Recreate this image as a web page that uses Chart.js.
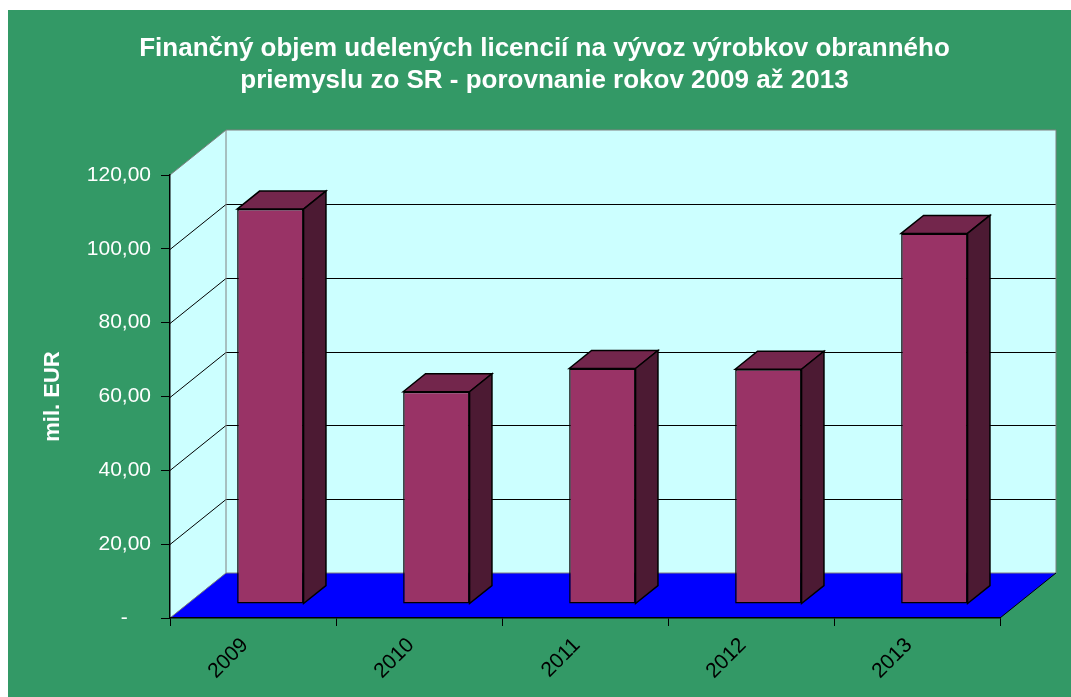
<!DOCTYPE html>
<html>
<head>
<meta charset="utf-8">
<script src="https://cdn.jsdelivr.net/npm/chart.js@4.4.1/dist/chart.umd.min.js"></script>
<style>
    body { margin: 0; background: #fff; }
</style>
</head>
<body>
<canvas id="licenceChart" width="1071" height="697"></canvas>
<script>
    // data (mil. EUR)
    const years = ['2009', '2010', '2011', '2012', '2013'];
    const volumes = [107.0, 57.5, 63.8, 63.6, 100.4];
    const yTickValues = [0, 20, 40, 60, 80, 100, 120];
    const yTickLabels = ['-\u00a0\u00a0\u00a0\u00a0', '20,00', '40,00', '60,00', '80,00', '100,00', '120,00'];
    const titleLines = [
        'Finančný objem udelených licencií na vývoz výrobkov obranného',
        'priemyslu zo SR - porovnanie rokov 2009 až 2013'
    ];

    // 3D look
    const DEPTH_X = 56, DEPTH_Y = -45;   // offset of back wall
    const BAR_FRONT = 0.31;              // bars sit a bit into the depth
    const BAR_DEPTH = 0.40;
    const FONT = '"Liberation Sans", Arial, sans-serif';

    const box3d = {
        id: 'box3d',
        beforeDraw(chart) {
            const ctx = chart.ctx;
            const xs = chart.scales.x, ys = chart.scales.y;
            const l = xs.left, r = xs.right;
            const y0 = ys.getPixelForValue(ys.min), yTop = ys.getPixelForValue(ys.max);

            ctx.save();
            ctx.fillStyle = '#ffffff';
            ctx.fillRect(0, 0, chart.width, chart.height);
            ctx.fillStyle = '#339966';
            ctx.fillRect(8, 10, chart.width - 8, chart.height - 10);

            // side wall
            ctx.fillStyle = '#ccffff';
            ctx.beginPath();
            ctx.moveTo(l, y0); ctx.lineTo(l, yTop);
            ctx.lineTo(l + DEPTH_X, yTop + DEPTH_Y); ctx.lineTo(l + DEPTH_X, y0 + DEPTH_Y);
            ctx.closePath(); ctx.fill();
            // back wall
            ctx.fillRect(l + DEPTH_X, yTop + DEPTH_Y, r - l, y0 - yTop);
            // floor
            ctx.fillStyle = '#0000ff';
            ctx.beginPath();
            ctx.moveTo(l, y0); ctx.lineTo(l + DEPTH_X, y0 + DEPTH_Y);
            ctx.lineTo(r + DEPTH_X, y0 + DEPTH_Y); ctx.lineTo(r, y0);
            ctx.closePath(); ctx.fill();

            // gridlines
            ctx.strokeStyle = '#000';
            ctx.lineWidth = 1;
            yTickValues.forEach(v => {
                if (v === ys.min || v === ys.max) return;
                const py = Math.round(ys.getPixelForValue(v)) + 0.5;
                ctx.beginPath();
                ctx.moveTo(l, py);
                ctx.lineTo(l + DEPTH_X, py + DEPTH_Y);
                ctx.lineTo(r + DEPTH_X, py + DEPTH_Y);
                ctx.stroke();
            });

            // wall edges
            ctx.strokeStyle = '#808080';
            ctx.beginPath();
            ctx.moveTo(l, yTop); ctx.lineTo(l + DEPTH_X, yTop + DEPTH_Y);
            ctx.lineTo(r + DEPTH_X, yTop + DEPTH_Y); ctx.lineTo(r + DEPTH_X, y0 + DEPTH_Y);
            ctx.lineTo(l + DEPTH_X, y0 + DEPTH_Y); ctx.lineTo(l + DEPTH_X, yTop + DEPTH_Y);
            ctx.moveTo(l, y0); ctx.lineTo(l + DEPTH_X, y0 + DEPTH_Y);
            ctx.stroke();
            ctx.strokeStyle = '#000';
            ctx.beginPath();
            ctx.moveTo(r, y0); ctx.lineTo(r + DEPTH_X, y0 + DEPTH_Y);
            ctx.stroke();
            ctx.restore();
        },
        beforeDatasetsDraw(chart) {
            chart.ctx.save();
            chart.ctx.translate(DEPTH_X * BAR_FRONT, DEPTH_Y * BAR_FRONT);
        },
        afterDatasetsDraw(chart) {
            const ctx = chart.ctx;
            const bx = DEPTH_X * BAR_DEPTH, by = DEPTH_Y * BAR_DEPTH;
            ctx.lineWidth = 1.5;
            ctx.strokeStyle = '#000';
            ctx.lineJoin = 'miter';
            chart.getDatasetMeta(0).data.forEach(bar => {
                const { x, y, base, width } = bar.getProps(['x', 'y', 'base', 'width'], true);
                const x1 = x - width / 2, x2 = x + width / 2;
                // top
                ctx.fillStyle = '#73264c';
                ctx.beginPath();
                ctx.moveTo(x1, y); ctx.lineTo(x1 + bx, y + by);
                ctx.lineTo(x2 + bx, y + by); ctx.lineTo(x2, y);
                ctx.closePath(); ctx.fill(); ctx.stroke();
                // side
                ctx.fillStyle = '#4c1a33';
                ctx.beginPath();
                ctx.moveTo(x2, y); ctx.lineTo(x2 + bx, y + by);
                ctx.lineTo(x2 + bx, base + by); ctx.lineTo(x2, base);
                ctx.closePath(); ctx.fill(); ctx.stroke();
            });
            ctx.restore();
        }
    };

    const ctx = document.getElementById('licenceChart').getContext('2d');
    const licenceChart = new Chart(ctx, {
        type: 'bar',
        data: {
            labels: years,
            datasets: [{
                data: volumes,
                backgroundColor: '#993366',
                borderColor: '#000',
                borderWidth: 1.5,
                borderSkipped: false,
                categoryPercentage: 1,
                barPercentage: 0.4,
                clip: false
            }]
        },
        plugins: [box3d],
        options: {
            responsive: false,
            animation: false,
            devicePixelRatio: 1,
            layout: { padding: { left: 18, right: 0, top: 0, bottom: 0 } },
            plugins: {
                legend: { display: false },
                tooltip: { enabled: false },
                title: {
                    display: true,
                    text: titleLines,
                    color: '#fff',
                    font: { family: FONT, size: 26, weight: 'bold', lineHeight: 32 / 26 },
                    padding: { top: 33, bottom: 78 }
                }
            },
            scales: {
                x: {
                    grid: { drawOnChartArea: false, drawTicks: true, tickLength: 8, color: '#000' },
                    border: { display: true, color: '#000', width: 1.5 },
                    ticks: {
                        color: '#000',
                        font: { family: FONT, size: 21 },
                        maxRotation: 45,
                        minRotation: 45,
                        padding: 7,
                        labelOffset: -8
                    },
                    afterFit(scale) { scale.height = 79; }
                },
                y: {
                    min: 0,
                    max: 120,
                    afterBuildTicks(scale) {
                        scale.ticks = yTickValues.map(v => ({ value: v }));
                    },
                    ticks: {
                        color: '#fff',
                        font: { family: FONT, size: 21 },
                        padding: 10,
                        callback: (v) => yTickLabels[yTickValues.indexOf(v)]
                    },
                    grid: { drawOnChartArea: false, drawTicks: true, tickLength: 9, color: '#000' },
                    border: { display: true, color: '#000', width: 1.5 },
                    title: {
                        display: true,
                        text: 'mil. EUR',
                        color: '#fff',
                        font: { family: FONT, size: 22, weight: 'bold' },
                        padding: { top: 22, bottom: 0 }
                    },
                    afterFit(scale) { scale.width = 152; }
                },
                // empty right axis: keeps room for the 3D depth on the right
                yRight: {
                    position: 'right',
                    grid: { display: false },
                    border: { display: false },
                    ticks: { display: false },
                    afterFit(scale) { scale.width = 71; }
                }
            }
        }
    });
</script>
</body>
</html>
